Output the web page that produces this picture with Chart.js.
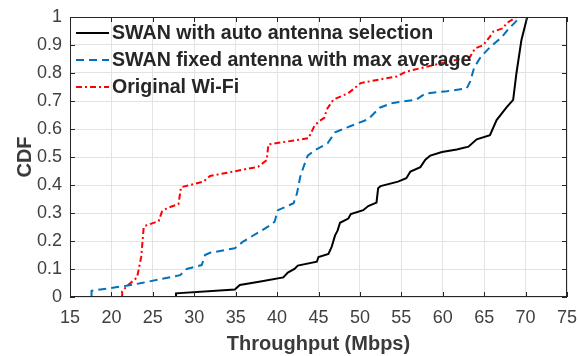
<!DOCTYPE html>
<html>
<head>
<meta charset="utf-8">
<script src="https://cdn.jsdelivr.net/npm/chart.js@4.4.1/dist/chart.umd.min.js"></script>
<style>
html,body{margin:0;padding:0;background:#fff;}
#wrap{width:579px;height:356px;}
</style>
</head>
<body>
<div id="wrap"><canvas id="c" width="579" height="356"></canvas></div>
<script>
// Series names
const seriesNames = ["SWAN with auto antenna selection", "SWAN fixed antenna with max average", "Original Wi-Fi"];

// SWAN with auto antenna selection
const autoX = [27.8, 27.8, 34.9, 35.5, 38.0, 40.75, 41.3, 42.1, 42.5, 44.8, 45.0, 46.2, 46.6, 47.0, 47.3, 47.6, 48.6, 48.9, 50.4, 51.0, 52.0, 52.2, 52.5, 54.6, 55.6, 56.1, 57.3, 57.9, 58.5, 59.9, 61.7, 63.1, 64.1, 65.7, 66.5, 67.7, 68.5, 68.9, 69.5, 70.2];
const autoY = [0, 0.013, 0.027, 0.043, 0.055, 0.07, 0.087, 0.1, 0.112, 0.126, 0.143, 0.154, 0.18, 0.22, 0.237, 0.265, 0.28, 0.296, 0.31, 0.325, 0.337, 0.388, 0.396, 0.412, 0.424, 0.448, 0.464, 0.49, 0.505, 0.518, 0.527, 0.537, 0.563, 0.578, 0.632, 0.677, 0.704, 0.80, 0.918, 1.0];

// SWAN fixed antenna with max average
const fixedX = [17.6, 17.6, 21.8, 23.65, 28.3, 29.1, 30.9, 31.3, 31.9, 34.9, 35.9, 38.9, 39.7, 40.1, 42.0, 42.4, 42.8, 43.2, 43.7, 44.6, 46.1, 47.0, 48.4, 51.0, 52.4, 53.8, 56.8, 57.9, 60.5, 62.9, 63.3, 63.8, 64.6, 65.8, 67.1, 67.9, 68.7, 69.3];
const fixedY = [0, 0.022, 0.04, 0.05, 0.078, 0.10, 0.114, 0.15, 0.158, 0.174, 0.198, 0.251, 0.269, 0.31, 0.335, 0.37, 0.43, 0.465, 0.505, 0.525, 0.549, 0.588, 0.605, 0.635, 0.676, 0.692, 0.705, 0.727, 0.735, 0.745, 0.769, 0.82, 0.858, 0.895, 0.927, 0.956, 0.98, 1.0];

// Original Wi-Fi
const wifiX = [21.3, 21.3, 21.8, 23.1, 23.6, 23.9, 24.05, 25.7, 26.1, 26.7, 28.1, 28.4, 31.1, 31.9, 34.7, 37.7, 38.75, 38.95, 43.8, 44.5, 45.0, 45.7, 46.0, 46.8, 48.6, 50.1, 52.4, 54.4, 55.6, 59.7, 63.3, 63.9, 64.9, 65.7, 66.1, 67.3, 67.7, 68.3, 68.9];
const wifiY = [0, 0.02, 0.037, 0.07, 0.144, 0.25, 0.254, 0.271, 0.305, 0.317, 0.332, 0.392, 0.412, 0.432, 0.448, 0.465, 0.489, 0.545, 0.567, 0.611, 0.626, 0.64, 0.67, 0.705, 0.728, 0.764, 0.777, 0.787, 0.805, 0.834, 0.858, 0.888, 0.90, 0.93, 0.948, 0.96, 0.978, 0.989, 1.0];

// Axis ticks
const xTicks = [15, 20, 25, 30, 35, 40, 45, 50, 55, 60, 65, 70, 75];
const yTicks = [0, 0.1, 0.2, 0.3, 0.4, 0.5, 0.6, 0.7, 0.8, 0.9, 1];

const pts = (xs, ys) => xs.map((x, i) => ({x: x, y: ys[i]}));
const FONT = "'Liberation Sans', Arial, Helvetica, sans-serif";
const AXIS_COLOR = '#262626';

const styles = [
  {color: '#000000', dash: []},
  {color: '#0072BD', dash: [8, 5]},
  {color: '#FF0000', dash: [6, 3, 2, 3]}
];

const frameAndLegend = {
  id: 'frameAndLegend',
  afterDraw(chart) {
    const ctx = chart.ctx;
    const a = chart.chartArea;
    const xs = chart.scales.x, ys = chart.scales.y;
    ctx.save();
    // frame
    ctx.strokeStyle = AXIS_COLOR;
    ctx.lineWidth = 1;
    ctx.setLineDash([]);
    ctx.strokeRect(Math.round(a.left) + 0.5, Math.round(a.top) + 0.5, Math.round(a.right - a.left) - 1, Math.round(a.bottom - a.top) - 1);
    // inward ticks
    const tl = 5;
    ctx.beginPath();
    xTicks.forEach(v => {
      const px = Math.round(xs.getPixelForValue(v)) + 0.5;
      ctx.moveTo(px, a.bottom); ctx.lineTo(px, a.bottom - tl);
      ctx.moveTo(px, a.top); ctx.lineTo(px, a.top + tl);
    });
    yTicks.forEach(v => {
      const py = Math.round(ys.getPixelForValue(v)) + 0.5;
      ctx.moveTo(a.left, py); ctx.lineTo(a.left + tl, py);
      ctx.moveTo(a.right, py); ctx.lineTo(a.right - tl, py);
    });
    ctx.stroke();
    // legend
    ctx.font = 'bold 19.6px ' + FONT;
    ctx.textBaseline = 'middle';
    ctx.textAlign = 'left';
    seriesNames.forEach((name, i) => {
      const y = a.top + 16 + i * 27;
      ctx.strokeStyle = styles[i].color;
      ctx.lineWidth = 2;
      ctx.setLineDash(styles[i].dash);
      ctx.beginPath();
      ctx.moveTo(a.left + 6, y);
      ctx.lineTo(a.left + 39, y);
      ctx.stroke();
      ctx.fillStyle = '#262626';
      ctx.fillText(name, a.left + 42, y + 1);
    });
    ctx.restore();
  }
};

const datasets = [
  {label: seriesNames[0], data: pts(autoX, autoY)},
  {label: seriesNames[1], data: pts(fixedX, fixedY)},
  {label: seriesNames[2], data: pts(wifiX, wifiY)}
].map((d, i) => Object.assign(d, {
  showLine: true,
  borderColor: styles[i].color,
  backgroundColor: styles[i].color,
  borderWidth: 2,
  borderDash: styles[i].dash,
  pointRadius: 0,
  pointHoverRadius: 0,
  tension: 0,
  fill: false
}));

new Chart(document.getElementById('c'), {
  type: 'scatter',
  data: {datasets: datasets},
  options: {
    responsive: false,
    animation: false,
    devicePixelRatio: 1,
    layout: {padding: {top: 17, right: 12, left: 0, bottom: 0}},
    plugins: {legend: {display: false}, tooltip: {enabled: false}},
    scales: {
      x: {
        type: 'linear', min: 15, max: 75,
        afterBuildTicks: s => { s.ticks = xTicks.map(v => ({value: v})); },
        afterFit: s => { s.height = 59; s.paddingLeft = 0; s.paddingRight = 0; },
        ticks: {color: '#404040', font: {family: FONT, size: 18}, padding: 10, maxRotation: 0, autoSkip: false},
        grid: {color: '#e3e3e3', drawTicks: false, lineWidth: 1},
        border: {display: false},
        title: {display: true, text: 'Throughput (Mbps)', color: '#3a3a3a', font: {family: FONT, size: 20, weight: 'bold'}, padding: {top: 0, bottom: 0}}
      },
      y: {
        type: 'linear', min: 0, max: 1,
        afterBuildTicks: s => { s.ticks = yTicks.map(v => ({value: v})); },
        afterFit: s => { s.width = 70; s.paddingTop = 0; s.paddingBottom = 0; },
        ticks: {color: '#404040', font: {family: FONT, size: 18}, padding: 8, callback: v => String(v)},
        grid: {color: '#e3e3e3', drawTicks: false, lineWidth: 1},
        border: {display: false},
        title: {display: true, text: 'CDF', color: '#3a3a3a', font: {family: FONT, size: 20, weight: 'bold'}, padding: {top: 13, bottom: 0}}
      }
    }
  },
  plugins: [frameAndLegend]
});
</script>
</body>
</html>
